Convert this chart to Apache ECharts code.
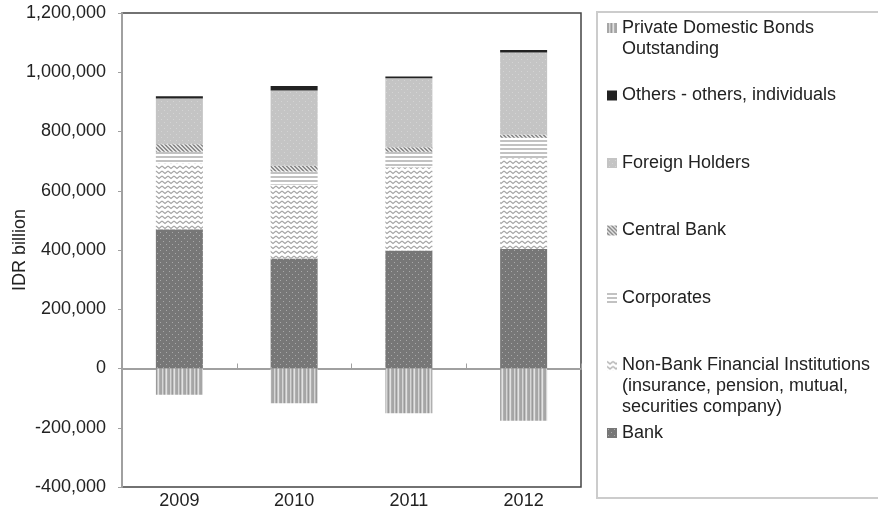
<!DOCTYPE html>
<html>
<head>
<meta charset="utf-8">
<script src="https://cdn.jsdelivr.net/npm/echarts@6/dist/echarts.min.js"></script>
<style>
  html, body { margin: 0; padding: 0; background: #fff; }
  #chart { width: 878px; height: 515px; }
</style>
</head>
<body>
<div id="chart"></div>
<script>
// Holders of Indonesian government / private domestic bonds, IDR billion
const years = ['2009', '2010', '2011', '2012'];
const bank = [470000, 371000, 398000, 403000];
const nonBank = [222000, 249000, 281000, 307000];
const corporates = [40000, 45000, 53000, 69000];
const centralBank = [25000, 19000, 15000, 11000];
const foreignHolders = [154000, 254000, 233000, 277000];
const others = [8000, 16000, 6000, 8000];
const privateBonds = [-89000, -117000, -151000, -176000];

const yTicks = { min: -400000, max: 1200000, step: 200000 };

const FONT = '"Liberation Sans", Arial, Helvetica, sans-serif';

// small canvas tiles used as repeating fill patterns
function tile(w, h, draw) {
  const c = document.createElement('canvas');
  c.width = w; c.height = h;
  const ctx = c.getContext('2d');
  draw(ctx);
  return { image: c, repeat: 'repeat' };
}

const patBank = tile(6, 6, ctx => {
  ctx.fillStyle = '#777777'; ctx.fillRect(0, 0, 6, 6);
  ctx.fillStyle = '#a9a9a9'; ctx.fillRect(1, 1, 1, 1); ctx.fillRect(4, 4, 1, 1);
});
const patNonBank = tile(6, 5, ctx => {
  ctx.fillStyle = '#ffffff'; ctx.fillRect(0, 0, 6, 5);
  ctx.strokeStyle = '#a4a4a4'; ctx.lineWidth = 1.1;
  ctx.beginPath(); ctx.moveTo(0, 1); ctx.lineTo(3, 3.5); ctx.lineTo(6, 1); ctx.stroke();
});
const patCorporates = tile(4, 4, ctx => {
  ctx.fillStyle = '#ffffff'; ctx.fillRect(0, 0, 4, 4);
  ctx.fillStyle = '#c2c2c2'; ctx.fillRect(0, 0, 4, 2);
});
const patCentral = tile(4, 4, ctx => {
  ctx.fillStyle = '#e2e2e2'; ctx.fillRect(0, 0, 4, 4);
  ctx.fillStyle = '#8c8c8c';
  for (let i = 0; i < 4; i++) { ctx.fillRect(i, i, 1, 1); ctx.fillRect((i + 1) % 4, i, 1, 1); }
});
const patForeign = tile(6, 6, ctx => {
  ctx.fillStyle = '#c4c4c4'; ctx.fillRect(0, 0, 6, 6);
  ctx.fillStyle = '#d4d4d4'; ctx.fillRect(2, 2, 1, 1); ctx.fillRect(5, 5, 1, 1);
});
const patPrivate = tile(8, 1, ctx => {
  const cols = ['#a6a6a6', '#a6a6a6', '#d6d6d6', '#b6b6b6', '#9a9a9a', '#c6c6c6', '#e2e2e2', '#b0b0b0'];
  cols.forEach((c, i) => { ctx.fillStyle = c; ctx.fillRect(i, 0, 1, 1); });
});

const seriesDefs = [
  { name: 'Bank', data: bank, color: patBank },
  { name: 'Non-Bank Financial Institutions (insurance, pension, mutual, securities company)', data: nonBank, color: patNonBank },
  { name: 'Corporates', data: corporates, color: patCorporates },
  { name: 'Central Bank', data: centralBank, color: patCentral },
  { name: 'Foreign Holders', data: foreignHolders, color: patForeign },
  { name: 'Others - others, individuals', data: others, color: '#222222' },
  { name: 'Private Domestic Bonds Outstanding', data: privateBonds, color: patPrivate }
];

// legend entries, top to bottom; the first line sits beside the swatch
const legendItems = [
  { name: 'Private Domestic Bonds Outstanding', lines: ['Private Domestic Bonds', 'Outstanding'] },
  { name: 'Others - others, individuals', lines: ['Others - others, individuals'] },
  { name: 'Foreign Holders', lines: ['Foreign Holders'] },
  { name: 'Central Bank', lines: ['Central Bank'] },
  { name: 'Corporates', lines: ['Corporates'] },
  { name: 'Non-Bank Financial Institutions (insurance, pension, mutual, securities company)', lines: ['Non-Bank Financial Institutions', '(insurance, pension, mutual,', 'securities company)'] },
  { name: 'Bank', lines: ['Bank'] }
];

const LINE_H = 21;
const SLOT = 67.5;
const FIRST_LINE_Y = 28;
const LEGEND_X = 607;
const SWATCH = 10;
const TEXT_X = LEGEND_X + SWATCH + 5;

const legends = legendItems.map((item, k) => ({
  data: [item.name],
  orient: 'vertical',
  left: LEGEND_X,
  top: FIRST_LINE_Y + SLOT * k - LINE_H / 2,
  padding: 0,
  itemWidth: SWATCH,
  itemHeight: SWATCH,
  icon: 'rect',
  selectedMode: false,
  formatter: () => item.lines[0],
  textStyle: { fontFamily: FONT, fontSize: 18, color: '#222', lineHeight: LINE_H }
}));

// wrapped continuation lines of the longer legend entries
const legendTail = [];
legendItems.forEach((item, k) => {
  item.lines.slice(1).forEach((line, j) => {
    legendTail.push({
      type: 'text',
      x: TEXT_X,
      y: FIRST_LINE_Y + SLOT * k + LINE_H * (j + 1),
      style: {
        text: line, fill: '#222',
        font: '18px ' + FONT,
        verticalAlign: 'middle', align: 'left'
      }
    });
  });
});

const chart = echarts.init(document.getElementById('chart'), null, { renderer: 'canvas' });

chart.setOption({
  animation: false,
  backgroundColor: '#ffffff',
  grid: {
    left: 122, right: 297, top: 13, bottom: 28,
    containLabel: false,
    outerBoundsMode: 'none',
    show: true, borderColor: '#444444', borderWidth: 1.5
  },
  legend: legends,
  graphic: [{
    type: 'rect',
    shape: { x: 597, y: 12, width: 290, height: 486 },
    style: { fill: 'none', stroke: '#cccccc', lineWidth: 2 },
    z: -1
  }].concat(legendTail),
  xAxis: [{
    type: 'category',
    data: years,
    position: 'bottom',
    axisLine: { show: false, onZero: false },
    axisTick: { show: false },
    axisLabel: { fontFamily: FONT, fontSize: 18, color: '#222', margin: 5 }
  }, {
    type: 'category',
    data: years,
    position: 'bottom',
    axisLine: { show: true, onZero: true, lineStyle: { color: '#a0a0a0', width: 2 } },
    axisTick: { show: true, inside: true, length: 5, lineStyle: { color: '#a0a0a0', width: 1 } },
    axisLabel: { show: false }
  }],
  yAxis: {
    type: 'value',
    min: yTicks.min, max: yTicks.max, interval: yTicks.step,
    name: 'IDR billion',
    nameLocation: 'middle',
    nameGap: 93,
    nameMoveOverlap: false,
    nameTextStyle: { fontFamily: FONT, fontSize: 18, color: '#222' },
    axisLine: { show: true, lineStyle: { color: '#a0a0a0', width: 2 } },
    axisTick: { show: true, length: 4, lineStyle: { color: '#a0a0a0', width: 1 } },
    splitLine: { show: false },
    axisLabel: {
      fontFamily: FONT, fontSize: 18, color: '#222', margin: 16,
      formatter: v => v.toLocaleString('en-US')
    }
  },
  series: seriesDefs.map(s => ({
    type: 'bar',
    name: s.name,
    stack: 'holders',
    xAxisIndex: 0,
    barWidth: 47,
    data: s.data,
    itemStyle: { color: s.color },
    emphasis: { disabled: true }
  }))
});
</script>
</body>
</html>
